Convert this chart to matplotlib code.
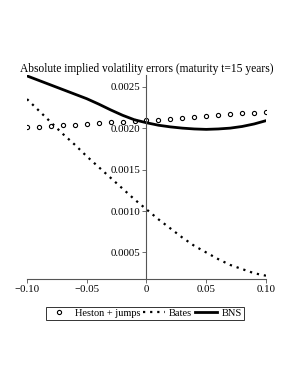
import numpy as np
import matplotlib
matplotlib.use('Agg')
import matplotlib.pyplot as plt

# strike offsets and errors
strikes = [-0.10, -0.09, -0.08, -0.07, -0.06, -0.05, -0.04, -0.03, -0.02, -0.01, 0.00,
           0.01, 0.02, 0.03, 0.04, 0.05, 0.06, 0.07, 0.08, 0.09, 0.10]
heston_jumps = [2.008, 2.016, 2.025, 2.034, 2.043, 2.052, 2.061, 2.070, 2.078, 2.086, 2.093,
                2.101, 2.113, 2.125, 2.132, 2.141, 2.153, 2.165, 2.177, 2.185, 2.197]
bates = [2.35, 2.21, 2.07, 1.93, 1.80, 1.66, 1.53, 1.40, 1.27, 1.14, 1.02,
         0.90, 0.79, 0.68, 0.58, 0.50, 0.42, 0.35, 0.30, 0.25, 0.22]
bns = [2.63, 2.575, 2.52, 2.465, 2.41, 2.355, 2.29, 2.22, 2.155, 2.10, 2.065,
       2.035, 2.015, 2.0, 1.99, 1.985, 1.99, 2.0, 2.02, 2.05, 2.09]

x_ticks = [-0.10, -0.05, 0, 0.05, 0.10]
x_labels = ['\u22120.10', '\u22120.05', '0', '0.05', '0.10']
y_ticks = [0.0005, 0.0010, 0.0015, 0.0020, 0.0025]
y_labels = ['0.0005', '0.0010', '0.0015', '0.0020', '0.0025']

plt.rcParams['font.family'] = ['Liberation Serif', 'DejaVu Serif']
plt.rcParams['font.size'] = 7.8

fig = plt.figure(figsize=(2.98, 3.85), dpi=100)
ax = fig.add_axes([0.0906, 0.2753, 0.802, 0.5297])

x = np.array(strikes)
ax.plot(x, np.array(heston_jumps) * 1e-3, linestyle='none', marker='o', markersize=3.0,
        markerfacecolor='white', markeredgecolor='black', markeredgewidth=0.8,
        label='Heston + jumps')
ax.plot(x, np.array(bates) * 1e-3, color='black', linewidth=1.6, linestyle=(0, (1, 2.2)),
        label='Bates')
ax.plot(x, np.array(bns) * 1e-3, color='black', linewidth=2.0, label='BNS')

ax.set_xlim(-0.10, 0.10)
ax.set_ylim(0.00018, 0.00264)

ax.spines['top'].set_visible(False)
ax.spines['right'].set_visible(False)
ax.spines['left'].set_position(('data', 0))
for s in ('left', 'bottom'):
    ax.spines[s].set_color('#555555')
    ax.spines[s].set_linewidth(0.8)

ax.set_xticks(x_ticks)
ax.set_xticklabels(x_labels)
ax.set_yticks(y_ticks)
ax.set_yticklabels(y_labels)
ax.tick_params(axis='both', length=3, width=0.6, color='#555555', pad=1.5)

ax.set_title('Absolute implied volatility errors (maturity t=15 years)', fontsize=8.3, pad=2)

leg = fig.legend(loc='center', bbox_to_anchor=(0.487, 0.186), ncol=3, fontsize=7.5,
                 frameon=True, fancybox=False, handlelength=2.1, handletextpad=0.4,
                 columnspacing=0.3, borderpad=0.2, borderaxespad=0)
leg.get_frame().set_edgecolor('black')
leg.get_frame().set_linewidth(0.7)

fig.savefig('out.png', dpi=100)
